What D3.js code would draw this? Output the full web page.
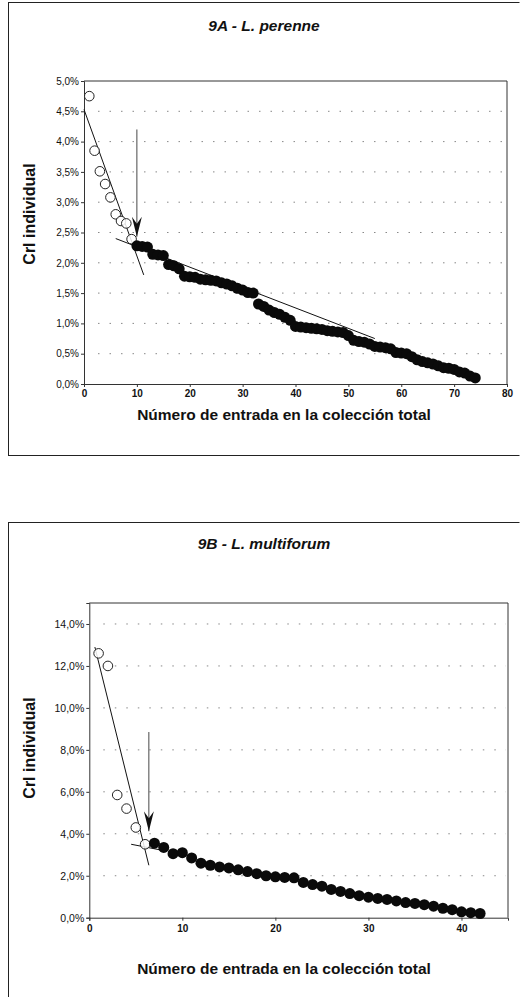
<!DOCTYPE html>
<html>
<head>
<meta charset="utf-8">
<script src="https://cdn.jsdelivr.net/npm/d3@7/dist/d3.min.js"></script>
<style>
  html, body { margin: 0; padding: 0; background: #fff; }
  svg { display: block; font-family: Arial, "Liberation Sans", sans-serif; }
</style>
</head>
<body>
<svg id="fig" width="520" height="997"></svg>
<script>
// ---- 9A: Lolium perenne ----
const titleA = "9A - L. perenne";
const openA = [4.75, 3.85, 3.51, 3.30, 3.08, 2.80, 2.69, 2.65, 2.39];          // entries 1-9
const filledA = [2.28, 2.27, 2.26, 2.14, 2.13, 2.12, 1.97, 1.95, 1.90, 1.78,    // entries 10-74
  1.77, 1.76, 1.73, 1.72, 1.71, 1.70, 1.67, 1.65, 1.62, 1.58,
  1.55, 1.51, 1.50, 1.32, 1.28, 1.22, 1.18, 1.15, 1.10, 1.05,
  0.95, 0.94, 0.93, 0.92, 0.91, 0.90, 0.88, 0.87, 0.86, 0.85,
  0.80, 0.72, 0.70, 0.69, 0.66, 0.62, 0.61, 0.60, 0.58, 0.52,
  0.51, 0.50, 0.45, 0.40, 0.37, 0.35, 0.33, 0.30, 0.27, 0.26,
  0.24, 0.20, 0.18, 0.13, 0.10];
const steepA = [[0, 4.53], [11.3, 1.80]];
const shallowA = [[6, 2.40], [55, 0.75]];
const arrowA = [[10, 4.2], [10, 2.43]];
const xTicksA = [0, 10, 20, 30, 40, 50, 60, 70, 80];
const yTicksA = [0, 0.5, 1, 1.5, 2, 2.5, 3, 3.5, 4, 4.5, 5];

// ---- 9B: Lolium multiflorum ----
const titleB = "9B - L. multiforum";
const openB = [12.6, 12.0, 5.85, 5.2, 4.3, 3.5];                               // entries 1-6
const filledB = [3.55, 3.35, 3.05, 3.10, 2.85, 2.60, 2.50, 2.42, 2.37, 2.28,     // entries 7-42
  2.20, 2.10, 2.00, 1.95, 1.92, 1.90, 1.68, 1.58, 1.50, 1.35,
  1.25, 1.15, 1.05, 0.98, 0.92, 0.87, 0.80, 0.72, 0.68, 0.62,
  0.55, 0.45, 0.38, 0.28, 0.24, 0.20];
const steepB = [[0.6, 12.9], [6.4, 2.5]];
const shallowB = [[4.5, 3.5], [8, 3.2]];
const arrowB = [[6.4, 8.85], [6.4, 4.12]];
const xTicksB = [0, 10, 20, 30, 40];
const yTicksB = [0, 2, 4, 6, 8, 10, 12, 14];

const yTitle = "Crl individual";
const xTitle = "Número de entrada en la colección total";

const es = d3.formatLocale({decimal: ",", thousands: ".", grouping: [3], currency: ["", " €"]});
const pct = v => es.format(".1f")(v) + "%";

const svg = d3.select("#fig");

// arrowhead pointing along the path direction
const defs = svg.append("defs");
defs.append("marker")
  .attr("id", "head")
  .attr("viewBox", "0 0 20 10")
  .attr("refX", 20).attr("refY", 5)
  .attr("markerWidth", 20).attr("markerHeight", 10)
  .attr("markerUnits", "userSpaceOnUse")
  .attr("orient", "auto")
  .append("path")
  .attr("d", "M0,0 L20,5 L0,10 L7,5 Z")
  .attr("fill", "#111");

function panel(cfg) {
  const g = svg.append("g");
  // outer frame
  g.append("path")
    .attr("d", cfg.frame)
    .attr("fill", "none").attr("stroke", "#222").attr("stroke-width", 1);

  const x = d3.scaleLinear().domain(cfg.xDomain).range([cfg.left, cfg.right]);
  const y = d3.scaleLinear().domain(cfg.yDomain).range([cfg.bottom, cfg.top]);

  // title
  g.append("text")
    .attr("x", 264).attr("y", cfg.titleY)
    .attr("text-anchor", "middle")
    .attr("font-size", 15.5).attr("font-weight", "bold").attr("font-style", "italic")
    .attr("fill", "#111")
    .text(cfg.title);

  // dotted gridlines
  g.append("g").selectAll("line")
    .data(cfg.yTicks.filter(v => v > 0 && v < cfg.yDomain[1]))
    .join("line")
    .attr("x1", cfg.left + 14).attr("x2", cfg.right - 2)
    .attr("y1", d => y(d)).attr("y2", d => y(d))
    .attr("stroke", "#888").attr("stroke-width", 1)
    .attr("stroke-dasharray", "1.5,10");

  // plot-area box (top & right)
  g.append("path")
    .attr("d", `M${cfg.left},${cfg.top}H${cfg.right}V${cfg.bottom}`)
    .attr("fill", "none").attr("stroke", "#333").attr("stroke-width", 1);

  // axes
  const yAxis = g.append("g")
    .attr("transform", `translate(${cfg.left},0)`)
    .call(d3.axisLeft(y).tickValues(cfg.yTicks).tickFormat(pct).tickSize(3).tickPadding(2));
  yAxis.selectAll("text").attr("font-size", cfg.yTickSize).attr("fill", "#111");
  yAxis.selectAll("line, path").attr("stroke", "#333");

  const xAxis = g.append("g")
    .attr("transform", `translate(0,${cfg.bottom})`)
    .call(d3.axisBottom(x).tickValues(cfg.xTicks).tickSize(3).tickPadding(cfg.xPad));
  xAxis.selectAll("text").attr("font-size", 10).attr("font-weight", "bold").attr("fill", "#111");
  xAxis.selectAll("line, path").attr("stroke", "#333");

  // axis titles
  g.append("text")
    .attr("transform", `translate(${cfg.yTitleX},${cfg.yTitleY}) rotate(-90)`)
    .attr("text-anchor", "middle")
    .attr("font-size", 16).attr("font-weight", "bold").attr("fill", "#111")
    .text(yTitle);
  g.append("text")
    .attr("x", 284).attr("y", cfg.xTitleY)
    .attr("text-anchor", "middle")
    .attr("font-size", 15.5).attr("font-weight", "bold").attr("fill", "#111")
    .text(xTitle);

  // fitted lines
  const line = d3.line().x(d => x(d[0])).y(d => y(d[1]));
  [cfg.steep, cfg.shallow].forEach(seg => {
    g.append("path").attr("d", line(seg))
      .attr("fill", "none").attr("stroke", "#111").attr("stroke-width", 1);
  });

  // open markers
  g.append("g").selectAll("circle")
    .data(cfg.open.map((v, i) => [i + 1, v]))
    .join("circle")
    .attr("cx", d => x(d[0])).attr("cy", d => y(d[1]))
    .attr("r", 4.8)
    .attr("fill", "#fff").attr("fill-opacity", 0.85)
    .attr("stroke", "#222").attr("stroke-width", 1);

  // filled markers
  const start = cfg.open.length + 1;
  g.append("g").selectAll("circle")
    .data(cfg.filled.map((v, i) => [start + i, v]))
    .join("circle")
    .attr("cx", d => x(d[0])).attr("cy", d => y(d[1]))
    .attr("r", 5.5)
    .attr("fill", "#0a0a0a");

  // arrow marking the break point
  g.append("path").attr("d", line(cfg.arrow))
    .attr("fill", "none").attr("stroke", "#333").attr("stroke-width", 0.9)
    .attr("marker-end", "url(#head)");
}

panel({
  title: titleA, titleY: 31,
  frame: "M8,2.5H519.5 M8.5,2.5V455.5 M8,455.5H519.5",
  left: 84, right: 507, top: 81, bottom: 384,
  xDomain: [0, 80], yDomain: [0, 5],
  xTicks: xTicksA, yTicks: yTicksA, yTickSize: 10, xPad: 3,
  open: openA, filled: filledA,
  steep: steepA, shallow: shallowA, arrow: arrowA,
  yTitleX: 35, yTitleY: 214, xTitleY: 420
});

panel({
  title: titleB, titleY: 549,
  frame: "M8,522.5H519.5 M8.5,522.5V997",
  left: 89.3, right: 508, top: 603, bottom: 917.7,
  xDomain: [0, 45], yDomain: [0, 15],
  xTicks: xTicksB, yTicks: yTicksB, yTickSize: 10.5, xPad: 4,
  open: openB, filled: filledB,
  steep: steepB, shallow: shallowB, arrow: arrowB,
  yTitleX: 35, yTitleY: 748, xTitleY: 974
});
</script>
</body>
</html>
